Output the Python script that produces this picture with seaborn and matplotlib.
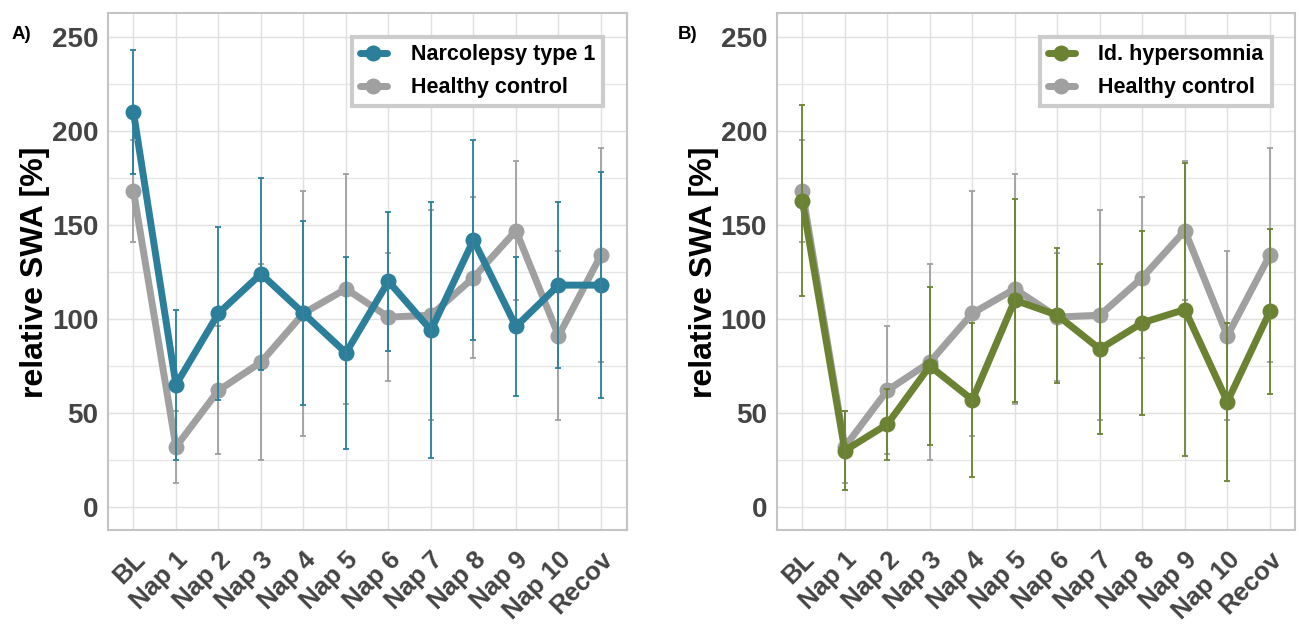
import numpy as np
import pandas as pd
import matplotlib
matplotlib.use("Agg")
import matplotlib.pyplot as plt
from matplotlib.ticker import MultipleLocator
import seaborn as sns


# 데이터 (그림에서 읽은 값: 평균 ± 오차)
sessions = ["BL", "Nap 1", "Nap 2", "Nap 3", "Nap 4", "Nap 5",
            "Nap 6", "Nap 7", "Nap 8", "Nap 9", "Nap 10", "Recov"]

hc_mean = [168, 32, 62, 77, 103, 116, 101, 102, 122, 147, 91, 134]
hc_err = [27, 19, 34, 52, 65, 61, 34, 56, 43, 37, 45, 57]

nt1_mean = [210, 65, 103, 124, 103, 82, 120, 94, 142, 96, 118, 118]
nt1_err = [33, 40, 46, 51, 49, 51, 37, 68, 53, 37, 44, 60]

ih_mean = [163, 30, 44, 75, 57, 110, 102, 84, 98, 105, 56, 104]
ih_err = [51, 21, 19, 42, 41, 54, 36, 45, 49, 78, 42, 44]

hc_name = "Healthy control"
gray = "#a0a0a0"
teal = "#2b7f9b"
green = "#6b8232"

sns.set_theme(style="whitegrid")
plt.rcParams['font.family'] = ['Liberation Sans', 'DejaVu Sans']

fig = plt.figure(figsize=(12.99, 6.35), dpi=100)
ax_a = fig.add_axes([0.0831, 0.1646, 0.3992, 0.8142])
ax_b = fig.add_axes([0.598, 0.1646, 0.3992, 0.8142])


def draw_panel(ax, name, mean, err, color):
    x = list(range(len(sessions)))
    df = pd.DataFrame({
        "x": x + x,
        "swa": hc_mean + mean,
        "group": [hc_name] * len(x) + [name] * len(x),
    })
    # 대조군 먼저, 환자군이 위에 오도록
    for grp, m, e, c in [(hc_name, hc_mean, hc_err, gray), (name, mean, err, color)]:
        sns.lineplot(data=df[df["group"] == grp], x="x", y="swa", color=c,
                     marker="o", markersize=11.5, markeredgewidth=0,
                     linewidth=5, ax=ax, label=grp, sort=False)
        ax.errorbar(x, m, yerr=e, fmt="none", ecolor=c, elinewidth=1.3,
                    capsize=2, capthick=1.3, zorder=2.5)

    ax.set_xlim(-0.6, len(sessions) - 0.4)
    ax.set_ylim(-12.5, 262.5)
    ax.set_xticks(x)
    ax.set_xticklabels(sessions, rotation=45, ha="right", va="top",
                       rotation_mode="anchor", fontsize=18.5, fontweight="bold",
                       color="#444444")
    ax.set_yticks([0, 50, 100, 150, 200, 250])
    ax.yaxis.set_minor_locator(MultipleLocator(25))
    for lab in ax.get_yticklabels():
        lab.set_fontsize(20)
        lab.set_fontweight("bold")
        lab.set_color("#444444")
    ax.set_xlabel("")
    ax.set_ylabel("relative SWA [%]", fontsize=23, fontweight="bold",
                  color="black", labelpad=1)

    ax.grid(which="major", color="#e0e0e0", linewidth=1)
    ax.grid(which="minor", axis="y", color="#e6e6e6", linewidth=1)
    ax.tick_params(axis="both", which="major", length=4, width=1,
                   color="#b3b3b3", direction="out")
    ax.tick_params(axis="x", pad=8)
    ax.tick_params(axis="y", pad=3)
    ax.tick_params(which="minor", length=0)
    for sp in ax.spines.values():
        sp.set_visible(True)
        sp.set_color("#c4c4c4")
        sp.set_linewidth(1.5)

    handles, labels = ax.get_legend_handles_labels()
    leg = ax.legend(handles[::-1], labels[::-1], loc="upper right",
                    bbox_to_anchor=(0.954, 0.955), borderaxespad=0,
                    frameon=True, fancybox=False, framealpha=1,
                    edgecolor="#cccccc", handlelength=1.25, handletextpad=1.1,
                    prop=dict(weight="bold", size=15.5),
                    labelspacing=0.55, borderpad=0.36)
    leg.get_frame().set_linewidth(3)
    for t in leg.get_texts():
        t.set_color("black")


draw_panel(ax_a, "Narcolepsy type 1", nt1_mean, nt1_err, teal)
draw_panel(ax_b, "Id. hypersomnia", ih_mean, ih_err, green)

fig.text(0.009, 0.938, "A)", fontsize=13.5, fontweight="bold", color="black")
fig.text(0.522, 0.938, "B)", fontsize=13.5, fontweight="bold", color="black")

fig.savefig("out.png", dpi=100)
